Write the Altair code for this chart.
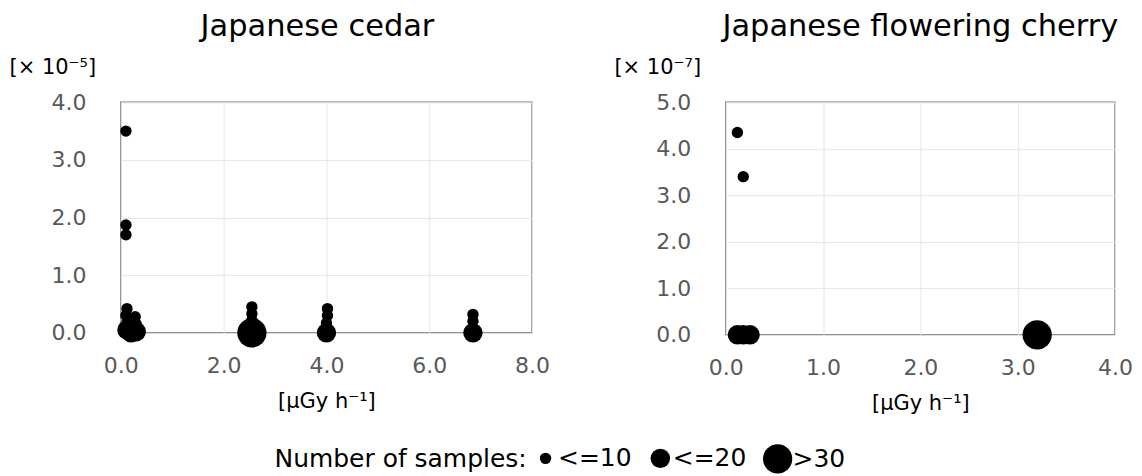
import altair as alt
import pandas as pd

# Japanese cedar (y in units of 1e-5)
cedar_x = [0.10, 0.10, 0.10, 0.12, 0.10, 0.28, 0.12, 0.30, 0.20, 0.12, 0.30, 0.20,
           2.55, 2.55, 2.55, 2.55,
           4.02, 4.02, 4.00, 4.00,
           6.85, 6.85, 6.85]
cedar_y = [3.50, 1.87, 1.70, 0.42, 0.30, 0.28, 0.18, 0.15, 0.08, 0.05, 0.02, 0.00,
           0.45, 0.33, 0.22, 0.00,
           0.42, 0.30, 0.17, 0.00,
           0.32, 0.20, 0.00]
cedar_n = ["<=10", "<=10", "<=10", "<=10", "<=10", "<=10", "<=10", "<=10", "<=10", "<=20", "<=20", "<=20",
           "<=10", "<=10", "<=10", ">30",
           "<=10", "<=10", "<=10", "<=20",
           "<=10", "<=10", "<=20"]

# Japanese flowering cherry (y in units of 1e-7)
cherry_x = [0.12, 0.18, 0.12, 0.18, 0.25, 3.20]
cherry_y = [4.35, 3.40, 0.00, 0.00, 0.00, 0.00]
cherry_n = ["<=10", "<=10", "<=20", "<=20", "<=20", ">30"]

groups = ["<=10", "<=20", ">30"]
sizes = [130, 380, 860]

FONT = "DejaVu Sans"

cedar = pd.DataFrame({"x": cedar_x, "y": cedar_y, "n": cedar_n})
cherry = pd.DataFrame({"x": cherry_x, "y": cherry_y, "n": cherry_n})

size_enc = alt.Size(
    "n:O",
    scale=alt.Scale(type="ordinal", domain=groups, range=sizes),
    legend=alt.Legend(
        title="Number of samples:",
        orient="none",
        legendX=154,
        legendY=342,
        direction="horizontal",
        titleOrient="left",
        titleFont=FONT,
        titleFontSize=25,
        titleFontWeight="normal",
        titleColor="black",
        titlePadding=6,
        titleBaseline="middle",
        titleLimit=500,
        labelFont=FONT,
        labelFontSize=25,
        labelColor="black",
        labelOffset=0,
        columnPadding=16,
        symbolFillColor="black",
        symbolStrokeColor="black",
        symbolStrokeWidth=0,
        symbolType="circle",
    ),
)


def panel(df, xmax, xstep, ymax, title, ylab, w, h, toff, ytx, tdx):
    return (
        alt.Chart(df, title=alt.TitleParams(title, font=FONT, fontSize=30.5, fontWeight="normal",
                                            color="black", offset=toff, dx=tdx))
        .mark_circle(color="black", opacity=1)
        .encode(
            x=alt.X("x:Q", scale=alt.Scale(domain=[0, xmax], nice=False),
                    axis=alt.Axis(values=[i * xstep for i in range(int(xmax / xstep) + 1)],
                                  format=".1f", title="[μGy h⁻¹]", titleFont=FONT,
                                  titleFontSize=21, titleFontWeight="normal", titleColor="black",
                                  titlePadding=14, labelFlush=False, labelPadding=23)),
            y=alt.Y("y:Q", scale=alt.Scale(domain=[0, ymax], nice=False),
                    axis=alt.Axis(values=list(range(ymax + 1)), format=".1f", title=ylab,
                                  titleAngle=0, titleAlign="left", titleBaseline="middle",
                                  titleX=ytx, titleY=-35, titleFont=FONT, titleFontSize=21,
                                  titleFontWeight="normal", titleColor="black",
                                  labelFlush=False, labelPadding=35)),
            size=size_enc,
        )
        .properties(width=w, height=h)
    )


left = panel(cedar, 8, 2, 4, "Japanese cedar", "[× 10⁻⁵]", 412, 231, 14, -112, -9)
right = panel(cherry, 4, 1, 5, "Japanese flowering cherry", "[× 10⁻⁷]", 390, 233, 14, -112, 0)

chart = (
    alt.hconcat(left, right, spacing=62)
    .properties(padding={"left": 0, "top": 2, "right": 0, "bottom": 2})
    .configure_view(stroke="#7f7f7f", strokeWidth=1.5)
    .configure_axis(
        grid=True,
        gridColor="#e6e6e6",
        domain=False,
        ticks=False,
        labelFont=FONT,
        labelFontSize=22,
        labelColor="#595959",
    )
)

chart.save("out.html", embed_options={"renderer": "svg", "actions": False})
